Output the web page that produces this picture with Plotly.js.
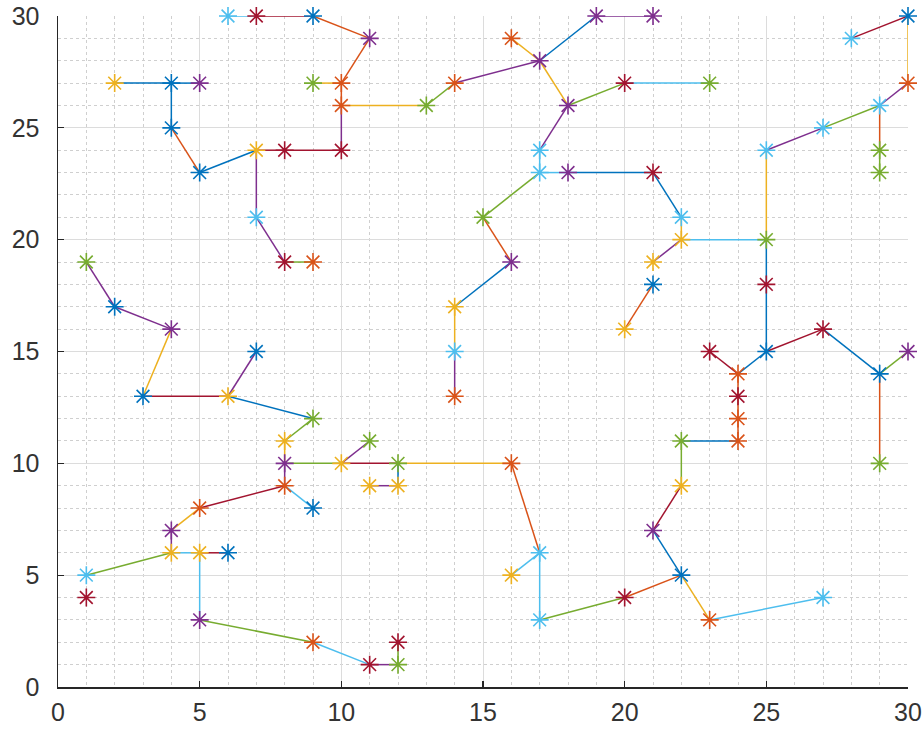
<!DOCTYPE html>
<html>
<head>
<meta charset="utf-8">
<script src="https://cdn.plot.ly/plotly-3.0.1.min.js"></script>
<style>html,body{margin:0;padding:0;background:#fff;}#chart{width:924px;height:733px;}</style>
</head>
<body>
<div id="chart"></div>
<script>
// Node coordinates and colour-group index (0..6 MATLAB order)
const nodeX = [6,7,9,11,2,4,5,4,5,7,8,10,9,10,10,13,14,16,17,19,21,18,20,23,17,17,18,21,22,22,21,21,20,25,25,27,29,30,30,28,29,29,7,8,9,1,2,4,3,6,7,9,8,8,10,11,12,11,12,16,8,9,5,4,4,5,6,1,1,5,9,11,12,12,15,16,14,14,14,17,16,17,20,22,21,22,22,24,24,24,24,23,25,25,27,29,30,29,23,27];
const nodeY = [30,30,30,29,27,27,27,25,23,24,24,24,27,27,26,26,27,29,28,30,30,26,27,27,24,23,23,23,21,20,19,18,16,20,24,25,26,27,30,29,24,23,21,19,19,19,17,16,13,13,15,12,11,10,10,11,10,9,9,10,9,8,8,7,6,6,6,5,4,3,2,1,1,2,21,19,17,15,13,6,5,3,4,5,7,9,11,11,12,13,14,15,15,18,16,14,15,10,3,4];
const nodeGroup = [5,6,0,3,2,0,3,0,0,2,6,6,4,1,1,4,1,1,3,3,3,3,6,4,5,5,3,6,5,2,2,0,2,4,5,5,5,1,0,5,4,4,5,6,1,4,0,3,0,2,0,4,2,3,2,4,4,2,2,1,1,0,1,3,2,2,0,5,6,3,1,6,4,6,4,3,2,5,1,5,2,5,6,0,3,2,4,1,1,6,1,6,0,6,6,0,3,4,1,5];

// Edges: start (x,y), end (x,y), colour-group index
const edgeX1 = [6,7,9,11,10,10,10,13,14,17,16,17,18,20,18,17,17,18,21,22,22,22,21,25,25,25,25,27,29,30,28,29,29,4,4,4,4,5,7,8,10,7,7,8,1,2,4,3,6,6,9,8,8,10,10,12,12,11,16,17,17,17,20,22,21,22,22,24,24,24,24,24,25,27,29,29,22,23,8,8,8,5,4,4,4,5,5,5,9,11,12,15,15,16,14,14,19];
const edgeY1 = [30,30,30,29,27,27,26,26,27,28,29,28,26,27,26,24,23,23,23,21,20,20,18,20,20,18,24,25,26,27,29,26,24,27,27,27,25,23,24,24,24,24,21,19,19,17,16,13,13,13,12,11,10,10,10,10,10,9,10,6,6,3,4,5,7,9,11,11,12,13,14,14,15,16,14,14,5,3,10,9,9,8,7,6,6,6,6,3,2,1,1,21,21,19,17,15,30];
const edgeX2 = [7,9,11,10,9,10,13,14,17,19,17,18,20,23,17,17,18,21,22,22,25,21,20,25,25,25,27,29,30,30,30,29,29,2,5,4,5,7,8,10,10,7,8,9,2,4,3,6,7,9,8,8,10,11,12,16,12,12,17,16,17,20,22,21,22,22,24,24,24,24,23,25,27,29,30,29,23,27,8,5,9,4,4,1,5,6,5,9,11,12,12,17,16,14,14,14,21];
const edgeY2 = [30,30,29,27,27,26,26,27,28,30,28,26,27,27,24,23,23,23,21,20,20,19,16,24,18,15,25,26,27,30,30,24,23,27,27,25,23,24,24,24,26,21,19,19,17,16,13,13,15,12,11,10,10,11,10,10,9,9,6,5,3,4,5,7,9,11,11,12,13,14,15,15,16,14,15,10,3,4,9,8,8,7,6,5,6,6,3,2,1,1,2,23,19,17,15,13,30];
const edgeGroup = [5,6,1,1,2,1,2,4,3,0,2,2,4,5,3,5,5,0,0,2,5,3,1,2,0,0,3,4,3,2,6,1,4,0,0,0,1,0,6,6,3,3,3,4,3,3,2,6,3,0,4,2,4,3,6,2,0,3,1,5,5,4,1,0,6,4,0,1,1,1,6,0,6,0,4,1,2,5,3,6,5,2,3,4,5,6,5,4,5,3,4,4,1,0,2,3,3];

const palette = ['#0072BD','#D95319','#EDB120','#7E2F8E','#77AC30','#4DBEEE','#A2142F'];

const traces = [];
for (let g = 0; g < palette.length; g++) {
  const lx = [], ly = [];
  for (let i = 0; i < edgeX1.length; i++) {
    if (edgeGroup[i] !== g) continue;
    lx.push(edgeX1[i], edgeX2[i], null);
    ly.push(edgeY1[i], edgeY2[i], null);
  }
  traces.push({type:'scatter', mode:'lines', x:lx, y:ly, cliponaxis:false, hoverinfo:'skip',
    line:{color:palette[g], width:1.5}, showlegend:false});
}
for (let g = 0; g < palette.length; g++) {
  const mx = [], my = [];
  for (let i = 0; i < nodeX.length; i++) {
    if (nodeGroup[i] !== g) continue;
    mx.push(nodeX[i]); my.push(nodeY[i]);
  }
  traces.push({type:'scatter', mode:'markers', x:mx, y:my, cliponaxis:false,
    marker:{symbol:'asterisk-open', size:15, color:palette[g], line:{color:palette[g], width:1.6}},
    showlegend:false});
}

const axisCommon = {
  range:[0,30], dtick:5, tick0:0, ticks:'inside', ticklen:6, tickwidth:1.2, tickcolor:'#262626',
  showline:true, linecolor:'#262626', linewidth:1.5, mirror:false,
  showgrid:true, gridcolor:'#dcdcdc', gridwidth:1, zeroline:false,
  tickfont:{family:'Liberation Sans, Arial, sans-serif', size:25, color:'#333333'},
  minor:{dtick:1, showgrid:true, gridcolor:'#cfcfcf', griddash:'dot', gridwidth:1, ticks:''}
};

const layout = {
  width:924, height:733,
  margin:{l:58, r:16, t:16, b:46},
  paper_bgcolor:'#ffffff', plot_bgcolor:'#ffffff',
  xaxis:Object.assign({}, axisCommon, {ticklabelstandoff:2}),
  yaxis:Object.assign({}, axisCommon, {ticklabelstandoff:12}),
  showlegend:false
};

Plotly.newPlot('chart', traces, layout, {displayModeBar:false, staticPlot:true});
</script>
</body>
</html>
